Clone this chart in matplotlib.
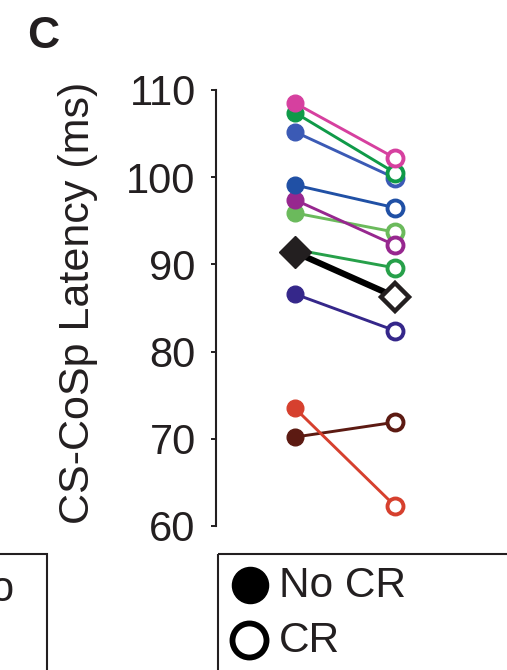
import matplotlib
matplotlib.use("Agg")
import matplotlib.pyplot as plt
from matplotlib.patches import Rectangle

plt.rcParams['font.family'] = ['Liberation Sans', 'DejaVu Sans']

# ---- data ----
conditions = ["No CR", "CR"]
colors = ["#5c1a12", "#d6402e", "#35278a", "#27a04a", "#6bba5c",
          "#97278f", "#2050a5", "#3b5ab5", "#0f9a48", "#d6409f"]
no_cr = [70.2, 73.5, 86.6, 91.7, 95.9, 97.4, 99.1, 105.2, 107.4, 108.5]
cr = [71.9, 62.3, 82.4, 89.6, 93.7, 92.2, 96.5, 99.9, 100.5, 102.2]
mean_no_cr = 91.4
mean_cr = 86.3
yticks = [60, 70, 80, 90, 100, 110]

W, H = 507, 670
fig = plt.figure(figsize=(W / 100, H / 100), dpi=100)
ax = fig.add_axes([216 / W, 1 - 526 / H, (470 - 216) / W, (526 - 90) / H])
ax.set_xlim(-0.79, 1.75)
ax.set_ylim(60, 110)

txt = "#231f20"
z = 2
for c, a, b in zip(colors, no_cr, cr):
    ax.plot([0, 1], [a, b], color=c, lw=2.1, zorder=z, clip_on=False)
    ax.plot([0], [a], 'o', ms=12, mfc=c, mec=c, zorder=z + 0.5, clip_on=False)
    ax.plot([1], [b], 'o', ms=11.5, mfc='white', mec=c, mew=2.8, zorder=z + 0.5, clip_on=False)
    z += 1

ax.plot([0, 1], [mean_no_cr, mean_cr], color='black', lw=4.5, zorder=z, clip_on=False)
ax.plot([0], [mean_no_cr], 'D', ms=16, mfc='#231f20', mec='#231f20', zorder=z + 0.5, clip_on=False)
ax.plot([1], [mean_cr], 'D', ms=14.5, mfc='white', mec='#231f20', mew=3.2, zorder=z + 0.5, clip_on=False)

for s in ['top', 'right', 'bottom']:
    ax.spines[s].set_visible(False)
ax.spines['left'].set_bounds(60, 110)
ax.spines['left'].set_linewidth(1.5)
ax.spines['left'].set_color(txt)
ax.set_xticks([])
ax.set_yticks(yticks)
ax.set_yticklabels([str(t) for t in yticks])
ax.tick_params(axis='y', direction='out', length=3.6, width=1.4, colors=txt,
               labelsize=30, pad=11)
ax.patch.set_alpha(0)

fig.text(27 / W, 1 - 48 / H, 'C', fontsize=32, fontweight='bold', color=txt,
         ha='left', va='baseline')
fig.text(78 / W, 1 - 303 / H, 'CS-CoSp Latency (ms)', rotation=90, fontsize=31,
         color=txt, ha='center', va='center')

# ---- legend boxes drawn in pixel coordinates ----
ov = fig.add_axes([0, 0, 1, 1])
ov.set_xlim(0, W)
ov.set_ylim(H, 0)
ov.axis('off')
ov.patch.set_alpha(0)
ov.add_patch(Rectangle((218, 554), 400, 200, fill=False, lw=1.5, ec=txt))
ov.add_patch(Rectangle((-100, 554), 147, 200, fill=False, lw=1.5, ec=txt))
ov.text(-10, 601, 'o', fontsize=30, color=txt, ha='left', va='baseline')
ov.plot([250], [585], 'o', ms=26, mfc='black', mec='black')
ov.plot([249], [640], 'o', ms=24.5, mfc='white', mec='black', mew=4.2)
ov.text(279, 586, conditions[0], fontsize=30.5, color=txt, ha='left', va='center')
ov.text(279, 641, conditions[1], fontsize=30.5, color=txt, ha='left', va='center')

fig.savefig('out.png', dpi=100)
